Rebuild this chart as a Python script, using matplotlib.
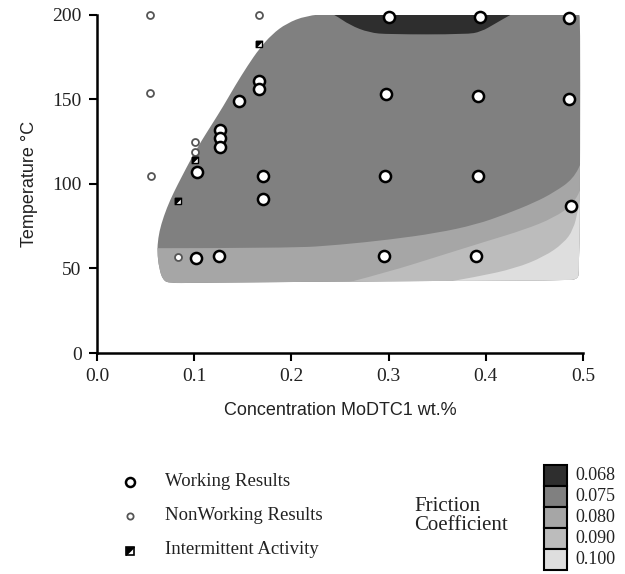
import matplotlib
matplotlib.use("Agg")
import matplotlib.pyplot as plt
from matplotlib.patches import PathPatch, Rectangle
from matplotlib.path import Path
import numpy as np

# ---------------- data ----------------
working_x = [0.300, 0.394, 0.485, 0.297, 0.392, 0.485, 0.296, 0.392, 0.488, 0.295, 0.390,
             0.146, 0.167, 0.167, 0.127, 0.127, 0.127, 0.103, 0.171, 0.171, 0.102, 0.126]
working_y = [199, 199, 198, 153, 152, 150, 105, 105, 87, 57.5, 57.5,
             149, 161, 156, 132, 127, 122, 107, 105, 91, 56.5, 57.5]

nonworking_x = [0.055, 0.055, 0.056, 0.167, 0.101, 0.101, 0.083]
nonworking_y = [200, 154, 105, 200, 125, 119, 57]

intermittent_x = [0.167, 0.101, 0.083]
intermittent_y = [183, 114, 90]

# outline of the measured (filled) region
envelope_x = [0.075, 0.068, 0.064, 0.062, 0.063, 0.066, 0.072, 0.079, 0.087, 0.097, 0.107,
              0.118, 0.130, 0.142, 0.155, 0.167, 0.180, 0.195, 0.215, 0.240, 0.300, 0.400,
              0.490, 0.496, 0.497, 0.497, 0.496, 0.494, 0.480, 0.300, 0.100]
envelope_y = [41.3, 43, 50, 60, 68, 76, 86, 95, 104, 115, 125,
              135, 146, 158, 170, 180, 188.5, 195, 199.5, 200.8, 201, 201.5,
              202, 201.5, 196, 120, 48, 43.5, 43, 42.5, 41.5]

# friction coefficient contour boundaries (y as function of x)
b075_080_x = [0.05, 0.20, 0.25, 0.30, 0.35, 0.39, 0.42, 0.45, 0.47, 0.49, 0.50]
b075_080_y = [62, 62, 64, 67, 71, 76, 82, 89, 95, 103, 115]

b080_090_x = [0.26, 0.30, 0.35, 0.40, 0.44, 0.47, 0.49, 0.50]
b080_090_y = [42, 48, 57, 66, 73, 80, 88, 100]

b090_100_x = [0.36, 0.39, 0.43, 0.46, 0.48, 0.49, 0.495, 0.50]
b090_100_y = [42, 45, 50, 57, 65, 73, 85, 100]

b068_075_x = [0.225, 0.245, 0.260, 0.280, 0.300, 0.380, 0.395, 0.410, 0.425, 0.445]
b068_075_y = [206, 200, 194, 189.5, 188.5, 188.5, 190, 195, 200, 206]

friction_levels = ["0.068", "0.075", "0.080", "0.090", "0.100"]
friction_colors = ["#2e2e2e", "#808080", "#a6a6a6", "#bcbcbc", "#dedede"]

x_ticks = [0.0, 0.1, 0.2, 0.3, 0.4, 0.5]
y_ticks = [0, 50, 100, 150, 200]


def smooth_open(xs, ys):
    p = np.column_stack([xs, ys]).astype(float)
    verts = [p[0]]
    codes = [Path.MOVETO]
    for i in range(1, len(p) - 1):
        verts += [p[i], (p[i] + p[i + 1]) / 2]
        codes += [Path.CURVE3, Path.CURVE3]
    verts.append(p[-1])
    codes.append(Path.LINETO)
    return verts, codes


def smooth_closed(xs, ys):
    p = np.column_stack([xs, ys]).astype(float)
    n = len(p)
    verts = [(p[0] + p[1]) / 2]
    codes = [Path.MOVETO]
    for i in range(1, n + 1):
        a = p[i % n]
        b = p[(i + 1) % n]
        verts += [a, (a + b) / 2]
        codes += [Path.CURVE3, Path.CURVE3]
    verts.append(verts[0])
    codes.append(Path.CLOSEPOLY)
    return Path(verts, codes)


# ---------------- figure ----------------
fig = plt.figure(figsize=(6.25, 5.74), dpi=100)
ax = fig.add_axes([0.155, 0.385, 0.778, 0.589])
ax.set_xlim(0, 0.5)
ax.set_ylim(0, 200)

env = PathPatch(smooth_closed(envelope_x, envelope_y), facecolor=friction_colors[1],
                edgecolor="none", zorder=1)
ax.add_patch(env)


def band(xs, ys, color, lower=True):
    verts, codes = smooth_open(xs, ys)
    yedge = 30 if lower else 215
    verts += [(xs[-1], yedge), (xs[0], yedge), (xs[0], ys[0])]
    codes += [Path.LINETO, Path.LINETO, Path.CLOSEPOLY]
    patch = PathPatch(Path(verts, codes), facecolor=color, edgecolor="none", zorder=2)
    ax.add_patch(patch)
    patch.set_clip_path(env)


band(b075_080_x, b075_080_y, friction_colors[2])
band(b080_090_x, b080_090_y, friction_colors[3])
band(b090_100_x, b090_100_y, friction_colors[4])
band(b068_075_x, b068_075_y, friction_colors[0], lower=False)

tri_marker = [(-1, 1), (1, 1), (-1, -1), (-1, 1)]

ax.plot(working_x, working_y, "o", ms=8, mfc="white", mec="black", mew=1.8,
        clip_on=False, zorder=5)
ax.plot(nonworking_x, nonworking_y, "o", ms=5, mfc="white", mec="#555555", mew=1.3,
        clip_on=False, zorder=5)
ax.plot(intermittent_x, intermittent_y, "s", ms=5, mfc="white", mec="black", mew=1.0,
        clip_on=False, zorder=5)
ax.plot(intermittent_x, intermittent_y, marker=tri_marker, ls="none", ms=5, mfc="black",
        mec="black", mew=0.5, clip_on=False, zorder=6)

for s in ["top", "right"]:
    ax.spines[s].set_visible(False)
for s in ["left", "bottom"]:
    ax.spines[s].set_linewidth(1.8)
ax.set_xticks(x_ticks)
ax.set_yticks(y_ticks)
ax.set_xticklabels([f"{v:.1f}" for v in x_ticks])
ax.set_yticklabels([str(v) for v in y_ticks])
ax.tick_params(direction="out", length=6, width=1.5, labelsize=14, pad=5)
for lab in ax.get_xticklabels() + ax.get_yticklabels():
    lab.set_family("Liberation Serif")
    lab.set_color("#222222")
ax.set_xlabel("Concentration MoDTC1 wt.%", family="Liberation Sans", fontsize=13,
              labelpad=12, color="#222222")
ax.set_ylabel("Temperature °C", family="Liberation Sans", fontsize=13,
              labelpad=10, color="#222222")

# ---------------- legend area (pixel-like coordinates) ----------------
lg = fig.add_axes([0, 0, 1, 1])
lg.set_xlim(0, 625)
lg.set_ylim(574, 0)
lg.axis("off")
lg.patch.set_alpha(0)

lg.plot([130], [482], "o", ms=6.5, mfc="white", mec="black", mew=1.8)
lg.plot([130], [516], "o", ms=4.5, mfc="white", mec="#555555", mew=1.3)
lg.plot([130], [551], "s", ms=6, mfc="white", mec="black", mew=1.2)
lg.plot([130], [551], marker=tri_marker, ls="none", ms=6, mfc="black", mec="black",
        mew=0.5)
leg_font = dict(family="Liberation Serif", fontsize=13.5, va="center", ha="left",
                color="#222222")
lg.text(165, 481, "Working Results", **leg_font)
lg.text(165, 515, "NonWorking Results", **leg_font)
lg.text(165, 550, "Intermittent Activity", **leg_font)

lg.text(414, 516, "Friction\nCoefficient", family="Liberation Serif", fontsize=15,
        va="center", ha="left", linespacing=1.05, color="#222222")

box_top = 465
box_h = 21
for i, (lab, col) in enumerate(zip(friction_levels, friction_colors)):
    y0 = box_top + i * box_h
    lg.add_patch(Rectangle((544, y0), 23, box_h, facecolor=col, edgecolor="black",
                           lw=1.5))
    lg.text(575, y0 + box_h / 2, lab, family="Liberation Serif", fontsize=13,
            va="center", ha="left", color="#222222")

fig.savefig("out.png", dpi=100)
